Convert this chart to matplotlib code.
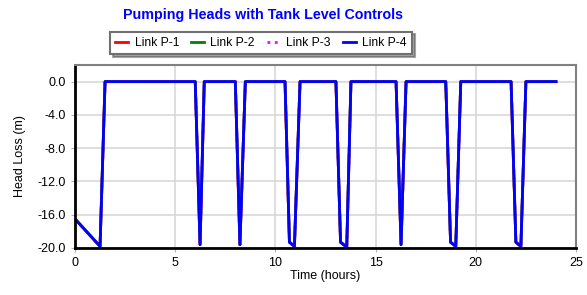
import matplotlib
matplotlib.use("Agg")
import matplotlib.pyplot as plt

plt.rcParams["font.family"] = ["Liberation Sans", "DejaVu Sans"]

# time (hours) and head loss (m)
time_hr = [0.0, 1.25, 1.5, 6.0, 6.24, 6.45, 8.0, 8.23, 8.5,
           10.48, 10.7, 10.95, 11.23, 13.02, 13.25, 13.56, 13.77,
           16.02, 16.27, 16.52, 18.5, 18.74, 19.0, 19.25,
           21.76, 22.0, 22.25, 22.5, 24.0]
head_loss = [-16.5, -19.8, 0.0, 0.0, -19.6, 0.0, 0.0, -19.6, 0.0,
             0.0, -19.3, -19.8, 0.0, 0.0, -19.3, -19.9, 0.0,
             0.0, -19.6, 0.0, 0.0, -19.3, -19.8, 0.0,
             0.0, -19.3, -19.8, 0.0, 0.0]

links = ["Link P-1", "Link P-2", "Link P-3", "Link P-4"]
colors = ["red", "green", "magenta", "blue"]
styles = ["-", "-", ":", "-"]
yticks = [-20, -16, -12, -8, -4, 0]
xticks = [0, 5, 10, 15, 20, 25]

fig = plt.figure(figsize=(5.87, 2.95), dpi=100)
ax = fig.add_axes([75 / 587, 1 - 248 / 295, (576 - 75) / 587, (248 - 65) / 295])

for name, c, ls in zip(links, colors, styles):
    ax.plot(time_hr, head_loss, color=c, linestyle=ls, linewidth=2, label=name)

ax.set_xlim(0, 25)
ax.set_ylim(-20, 2)
ax.set_xticks(xticks)
ax.set_yticks(yticks)
ax.set_yticklabels([f"{v:.1f}" for v in yticks])
ax.grid(True, color="#d8d8d8", linewidth=1.2)
ax.set_axisbelow(True)
ax.tick_params(colors="#b0b0b0", labelcolor="black", labelsize=9, length=3)

for s in ["left", "bottom"]:
    ax.spines[s].set_color("black")
    ax.spines[s].set_linewidth(2)
for s in ["top", "right"]:
    ax.spines[s].set_color("#808080")
    ax.spines[s].set_linewidth(1.5)

ax.set_xlabel("Time (hours)", fontsize=9, labelpad=1)
ax.set_ylabel("Head Loss (m)", fontsize=9, labelpad=8)

fig.text(263 / 587, 1 - 15 / 295, "Pumping Heads with Tank Level Controls",
         ha="center", va="center", color="blue", fontsize=10.3, fontweight="bold")

leg = fig.legend(loc="center", bbox_to_anchor=(261 / 587, 1 - 43 / 295), ncol=4,
                 fontsize=8.7, frameon=True, fancybox=False, shadow=True,
                 handlelength=1.1, handletextpad=0.5, columnspacing=1.0,
                 borderpad=0.45, borderaxespad=0)
leg.get_frame().set_edgecolor("#707070")
leg.get_frame().set_linewidth(1.5)

fig.savefig("out.png", dpi=100)
